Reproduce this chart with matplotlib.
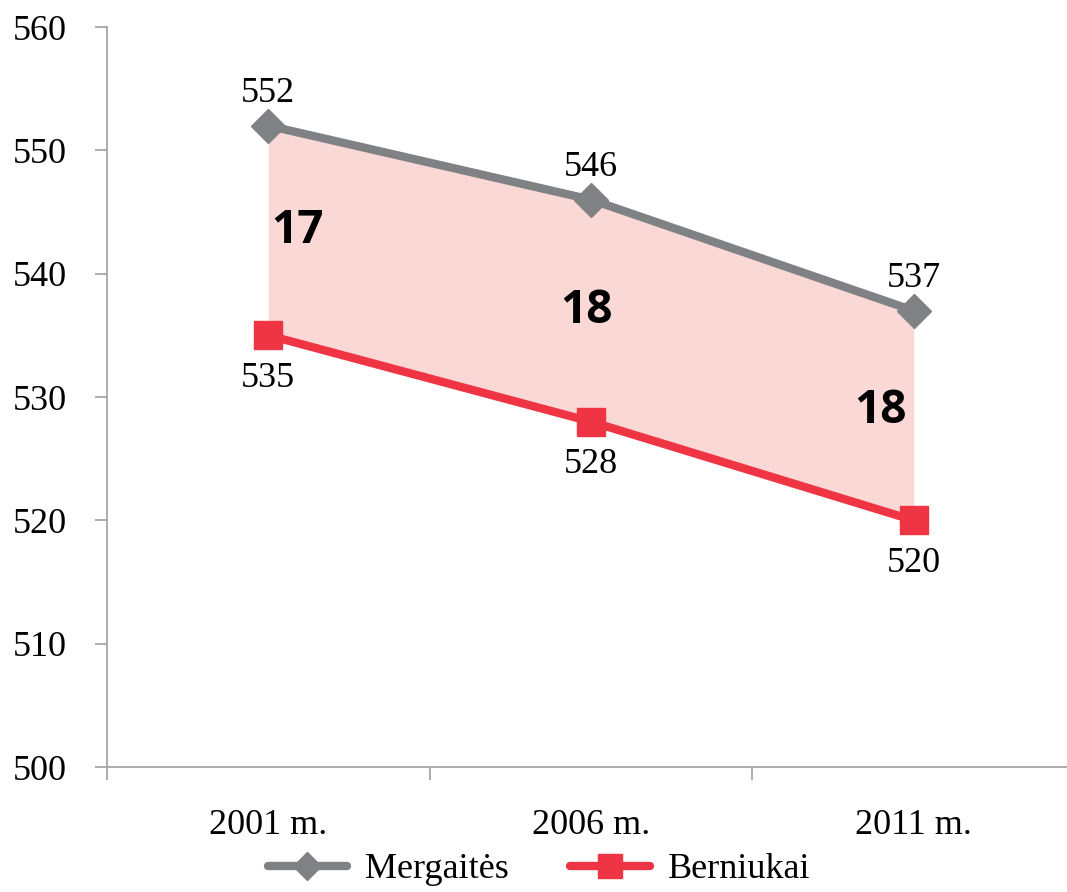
import matplotlib.pyplot as plt

years = ["2001 m.", "2006 m.", "2011 m."]
girls = [552, 546, 537]
boys = [535, 528, 520]
gaps = ["17", "18", "18"]
gap_x = [1.09, 1.985, 2.896]
gap_y = [543.5, 537.0, 528.9]

grey = "#808184"
red = "#EF3443"
fill = "#FAD8D5"
axis_col = "#A6A6A6"
serif = "Liberation Serif"

fig = plt.figure(figsize=(10.67, 8.92), dpi=100)
ax = fig.add_axes([107 / 1067, 125 / 892, 968 / 1067, 740 / 892])

x = [1, 2, 3]
ax.fill_between(x, boys, girls, color=fill, lw=0, zorder=1)
ax.plot(x, girls, color=grey, lw=6, marker="D", ms=17, label="Mergaitės",
        solid_capstyle="round", zorder=3)
ax.plot(x, boys, color=red, lw=6, marker="s", ms=20, label="Berniukai",
        solid_capstyle="round", zorder=3)

for xi, v in zip(x, girls):
    ax.annotate(str(v), (xi, v), xytext=(0, 23), textcoords="offset points",
                ha="center", va="center", fontsize=26, family=serif)
for xi, v in zip(x, boys):
    ax.annotate(str(v), (xi, v), xytext=(0, -31), textcoords="offset points",
                ha="center", va="center", fontsize=26, family=serif)
for gx, gy, g in zip(gap_x, gap_y, gaps):
    ax.text(gx, gy, g, ha="center", va="center", fontsize=33,
            fontweight="bold", family="Open Sans")

ax.set_xlim(0.5, 3.5)
ax.set_ylim(500, 560)
ax.set_yticks(range(500, 561, 10))
ax.set_xticks(x)
ax.set_xticklabels(years)
ax.set_xticks([0.5, 1.5, 2.5, 3.5], minor=True)
ax.tick_params(axis="x", which="major", length=0, pad=30)
ax.tick_params(axis="x", which="minor", length=9, width=1.3, color=axis_col,
               direction="out")
ax.tick_params(axis="y", length=9, width=1.3, color=axis_col, pad=20)
for lab in ax.get_xticklabels() + ax.get_yticklabels():
    lab.set_fontsize(26)
    lab.set_family(serif)

for s in ["top", "right"]:
    ax.spines[s].set_visible(False)
for s in ["left", "bottom"]:
    ax.spines[s].set_color(axis_col)
    ax.spines[s].set_linewidth(1.3)

fig.legend(loc="center", bbox_to_anchor=(0.505, 0.025), ncol=2, frameon=False,
           prop={"family": serif, "size": 26}, handlelength=2.2,
           handletextpad=0.5, columnspacing=1.7, markerscale=0.85)

fig.savefig("out.png", dpi=100)
